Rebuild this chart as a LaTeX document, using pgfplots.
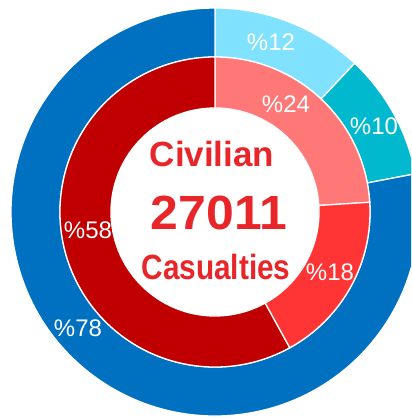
\documentclass[border=0pt]{standalone}
\usepackage{graphicx}
\usepackage{pgfplots}
\usepackage{pgfplotstable}
\pgfplotsset{compat=1.18}
\usepackage{fontspec}
\setmainfont{Liberation Sans}
\definecolor{cDB}{HTML}{0070C0}
\definecolor{cLB}{HTML}{80E2FF}
\definecolor{cTE}{HTML}{00B9CE}
\definecolor{cDR}{HTML}{C00000}
\definecolor{cSA}{HTML}{FF7878}
\definecolor{cRE}{HTML}{FF3535}
\definecolor{cTX}{HTML}{E8262A}

\pgfplotstableread{
val col
12 cLB
10 cTE
78 cDB
}\outerdata
\pgfplotstableread{
val col
24 cSA
18 cRE
58 cDR
}\innerdata

\newcommand\ring[3]{%
 \pgfplotstablegetrowsof{#1}\pgfmathtruncatemacro\nrows{\pgfplotsretval-1}%
 \gdef\cum{0}%
 \foreach \i in {0,...,\nrows}{%
   \pgfplotstablegetelem{\i}{val}\of{#1}\let\v\pgfplotsretval
   \pgfplotstablegetelem{\i}{col}\of{#1}\let\c\pgfplotsretval
   \pgfmathsetmacro\a{90-3.6*\cum}%
   \pgfmathsetmacro\b{90-3.6*(\cum+\v)}%
   \pgfmathsetmacro\newcum{\cum+\v}\xdef\cum{\newcum}%
   \edef\tmp{\noexpand\fill[\c, draw=white, line width=1.3pt, line join=round] (C) ++(\a:#3pt) arc[start angle=\a, end angle=\b, radius=#3pt] -- ([shift={(\b:#2pt)}]C) arc[start angle=\b, end angle=\a, radius=#2pt] -- cycle;}%
   \tmp
 }%
}

\begin{document}
\begin{tikzpicture}
\begin{axis}[hide axis, x=1pt, y=1pt, xmin=0, xmax=411, ymin=0, ymax=419, clip=true]
\coordinate (C) at (axis cs:215,207);
\ring{\outerdata}{155}{204}
\ring{\innerdata}{104}{155}
\node[white, inner sep=0pt, font=\fontsize{24}{24}\selectfont] at (axis cs:271,377) {\%12};
\node[white, inner sep=0pt, font=\fontsize{24}{24}\selectfont] at (axis cs:374,293) {\%10};
\node[white, inner sep=0pt, font=\fontsize{24}{24}\selectfont] at (axis cs:78,91) {\%78};
\node[white, inner sep=0pt, font=\fontsize{24}{24}\selectfont] at (axis cs:286,315) {\%24};
\node[white, inner sep=0pt, font=\fontsize{24}{24}\selectfont] at (axis cs:330,147) {\%18};
\node[white, inner sep=0pt, font=\fontsize{24}{24}\selectfont] at (axis cs:88,189) {\%58};
\node[anchor=base, inner sep=0pt, text=cTX, font=\bfseries\fontsize{35}{35}\selectfont] at (axis cs:212,252) {Civilian};
\node[anchor=base, inner sep=0pt, text=cTX, font=\bfseries\fontsize{48}{48}\selectfont] at (axis cs:219,189) {\scalebox{1.04}[1]{27011}};
\node[anchor=base, inner sep=0pt, text=cTX, font=\bfseries\fontsize{35}{35}\selectfont] at (axis cs:216,139) {\scalebox{0.85}[1]{Casualties}};
\end{axis}
\pgfresetboundingbox
\useasboundingbox (current axis.south west) rectangle (current axis.north east);
\end{tikzpicture}
\end{document}
